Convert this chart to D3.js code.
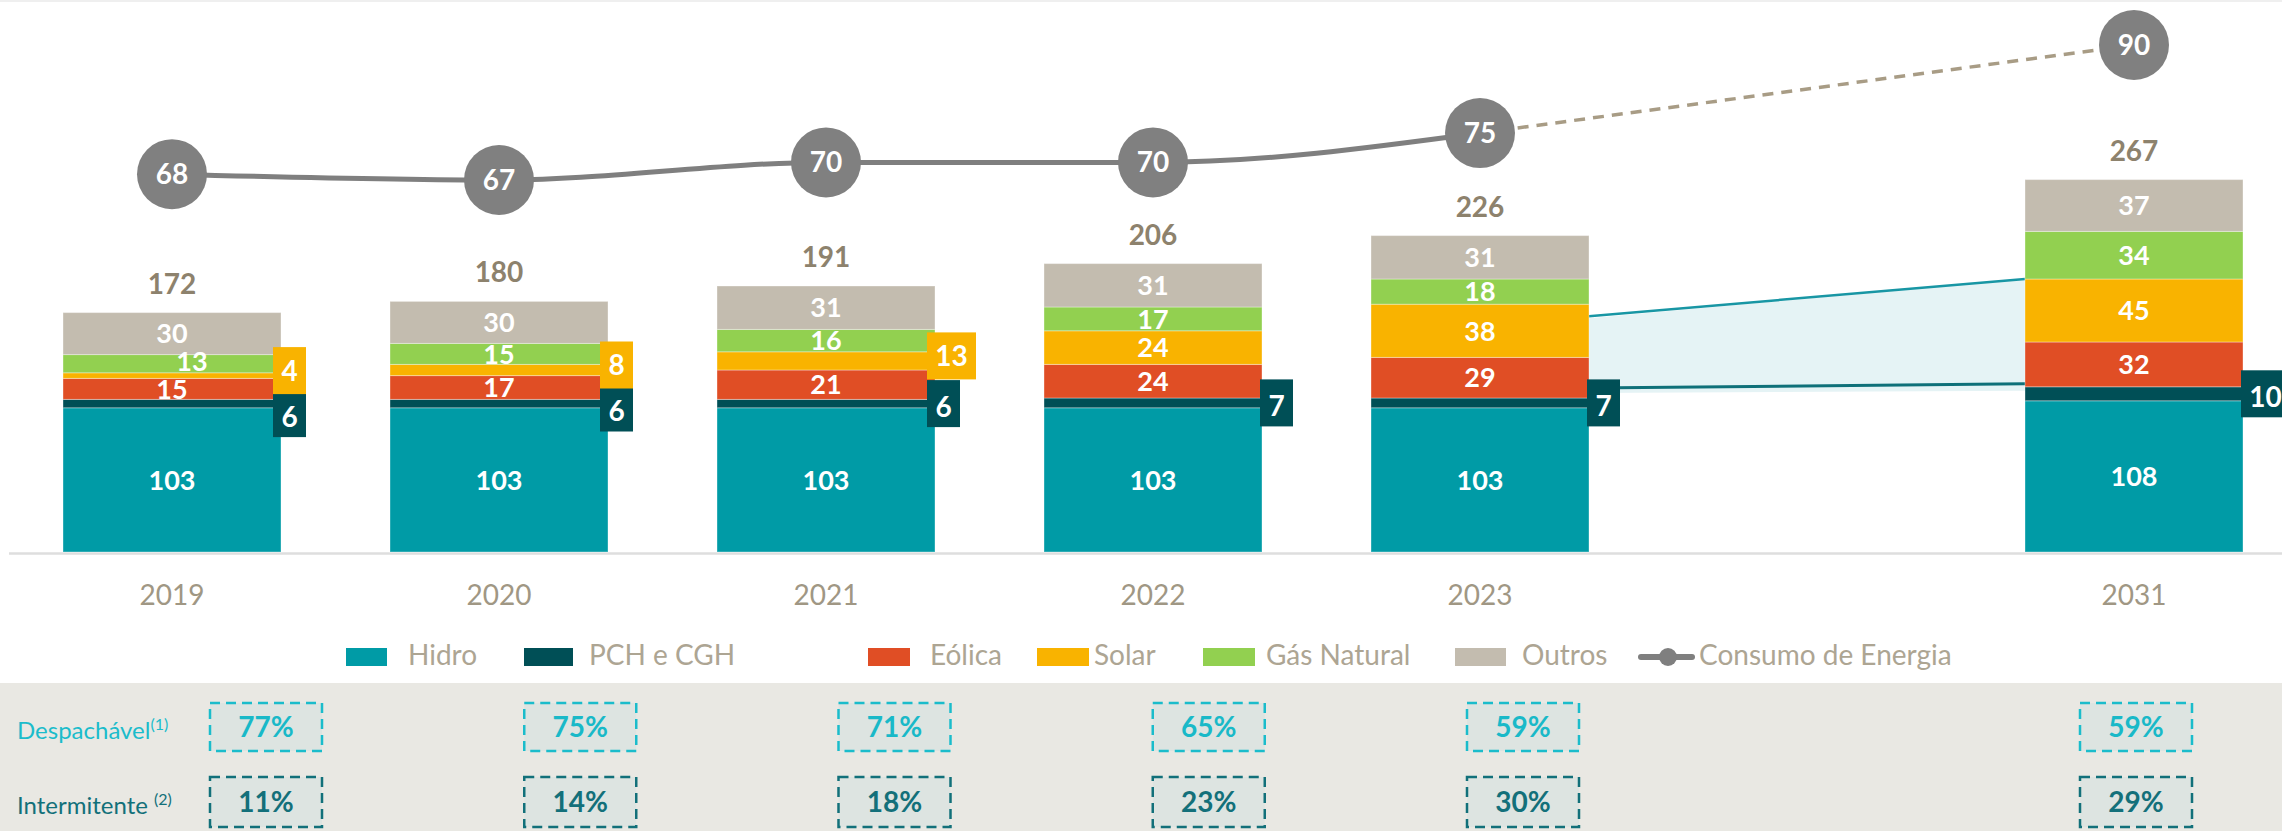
<!DOCTYPE html>
<html>
<head>
<meta charset="utf-8">
<script src="https://cdn.jsdelivr.net/npm/d3@7"></script>
<style>
  html, body { margin: 0; padding: 0; background: #ffffff; }
  svg { display: block; font-family: Lato, "Open Sans", "Liberation Sans", sans-serif; }
</style>
</head>
<body>
<svg id="chart" width="2282" height="831"></svg>
<script>
// ---------------- DATA ----------------
const years = ["2019", "2020", "2021", "2022", "2023", "2031"];
const slots = ["2019", "2020", "2021", "2022", "2023", "gap", "2031"];
const seriesNames = ["Hidro", "PCH e CGH", "Eólica", "Solar", "Gás Natural", "Outros"];
const hidro  = [103, 103, 103, 103, 103, 108];
const pch    = [6, 6, 6, 7, 7, 10];
const eolica = [15, 17, 21, 24, 29, 32];
const solar  = [4, 8, 13, 24, 38, 45];
const gas    = [13, 15, 16, 17, 18, 34];
const outros = [30, 30, 31, 31, 31, 37];
const totals = [172, 180, 191, 206, 226, 267];
const consumo = [68, 67, 70, 70, 75, 90];
const consumoLabel = "Consumo de Energia";
const despachavel  = [77, 75, 71, 65, 59, 59];
const intermitente = [11, 14, 18, 23, 30, 29];
const rowLabels = ["Despachável", "Intermitente "];
const rowSup = ["(1)", "(2)"];

// ---------------- STYLE ----------------
const colors = ["#009ba6", "#004f56", "#e04e25", "#f9b300", "#92d050", "#c3bcaf"];
const W = 2282, H = 831;
const baseY = 552;
const svg = d3.select("#chart");

const x = d3.scaleBand().domain(slots).range([8.5, 8.5 + 327 * 7]).paddingInner(1 / 3).paddingOuter(1 / 6);
const bw = x.bandwidth();
const cx = d => x(d) + bw / 2;
const y = d3.scaleLinear().domain([0, 300]).range([baseY, baseY - 420]);
const y2 = d3.scaleLinear().domain([67, 90]).range([180, 45]);
const tx = d3.scaleLinear().domain([0, 4, 6]).range([266, 1523, 2136]);

// top faint line
svg.append("line").attr("x1", 0).attr("x2", W).attr("y1", 1).attr("y2", 1)
  .attr("stroke", "#efefef").attr("stroke-width", 2);

// stack
const rows = years.map((yr, i) => ({
  year: yr, "Hidro": hidro[i], "PCH e CGH": pch[i], "Eólica": eolica[i],
  "Solar": solar[i], "Gás Natural": gas[i], "Outros": outros[i]
}));
const stack = d3.stack().keys(seriesNames)(rows);

// shaded transition area between 2023 and 2031 (Eólica + Solar band)
const i23 = years.indexOf("2023"), i31 = years.indexOf("2031");
const xl = x("2023") + bw, xr = x("2031");
const topL = y(stack[3][i23][1]), topR = y(stack[3][i31][1]);
const botL = y(stack[1][i23][1]), botR = y(stack[1][i31][1]);
svg.append("path")
  .attr("d", d3.line()([[xl, topL + 14], [xr, topR], [xr, botR + 4], [xl, botL - 5]]) + "Z")
  .attr("fill", "#e5f3f5");
svg.append("line").attr("x1", xl).attr("y1", topL + 12).attr("x2", xr).attr("y2", topR)
  .attr("stroke", "#1896a4").attr("stroke-width", 2.5);
svg.append("line").attr("x1", xl).attr("y1", botL - 10).attr("x2", xr).attr("y2", botR - 3)
  .attr("stroke", "#0f7079").attr("stroke-width", 3);

// axis line
svg.append("line").attr("x1", 9).attr("x2", W).attr("y1", baseY + 1.5).attr("y2", baseY + 1.5)
  .attr("stroke", "#dedede").attr("stroke-width", 2.5);

// bars
const g = svg.append("g");
stack.forEach((s, k) => {
  g.selectAll(null).data(s).enter().append("rect")
    .attr("x", d => x(d.data.year))
    .attr("width", bw)
    .attr("y", d => y(d[1]))
    .attr("height", d => y(d[0]) - y(d[1]))
    .attr("fill", colors[k])
    .attr("stroke", "rgba(255,255,255,0.35)")
    .attr("stroke-width", 1);
});

// inside labels
const fontB = "700";
stack.forEach((s, k) => {
  s.forEach((d, i) => {
    const v = d[1] - d[0];
    const name = seriesNames[k];
    if (name === "PCH e CGH") return;
    if (name === "Solar" && v < 20) return;
    const hpx = y(d[0]) - y(d[1]);
    g.append("text")
      .attr("x", cx(d.data.year) + (hpx < 20 ? 20 : 0))
      .attr("y", (y(d[0]) + y(d[1])) / 2 + (hpx < 20 ? -2 : 0))
      .attr("dy", "0.36em")
      .attr("text-anchor", "middle")
      .attr("fill", "#ffffff")
      .attr("font-size", 27).attr("font-weight", fontB)
      .text(v);
  });
});

// external boxes for small segments (Solar & PCH)
const boxH = 47;
years.forEach((yr, i) => {
  const right = x(yr) + bw;
  const left = right - 8;
  let solarBottom = -Infinity;
  const pcBox = g.append("g");
  if (solar[i] < 20) {
    const sc = (y(stack[3][i][0]) + y(stack[3][i][1])) / 2 - 5;
    const txt = String(solar[i]);
    const w = txt.length > 1 ? 49 : 33;
    const sb = g.append("g");
    sb.append("rect").attr("x", left).attr("y", sc - boxH / 2).attr("width", w).attr("height", boxH)
      .attr("fill", colors[3]);
    sb.append("text").attr("x", left + w / 2).attr("y", sc).attr("dy", "0.36em")
      .attr("text-anchor", "middle").attr("fill", "#fff").attr("font-size", 28).attr("font-weight", fontB)
      .text(txt);
    solarBottom = sc + boxH / 2;
  }
  const pc = (y(stack[1][i][0]) + y(stack[1][i][1])) / 2;
  let top = pc - boxH / 2;
  if (solarBottom > -Infinity) top = Math.max(top, solarBottom - 4);
  const txt = String(pch[i]);
  const w = txt.length > 1 ? 49 : 33;
  const pl = solarBottom > -Infinity ? left : left + 6;
  pcBox.append("rect")
    .attr("x", pl).attr("y", top).attr("width", w).attr("height", boxH).attr("fill", colors[1]);
  pcBox.append("text").attr("x", pl + w / 2).attr("y", top + boxH / 2 + 3).attr("dy", "0.36em")
    .attr("text-anchor", "middle").attr("fill", "#fff").attr("font-size", 28).attr("font-weight", fontB)
    .text(txt);
});

// totals
g.selectAll(null).data(years).enter().append("text")
  .attr("x", d => cx(d))
  .attr("y", (d, i) => y(d3.sum(seriesNames, n => rows[i][n])) - 19)
  .attr("text-anchor", "middle")
  .attr("fill", "#8d826d").attr("font-size", 28).attr("font-weight", fontB)
  .text((d, i) => totals[i]);

// year labels
g.selectAll(null).data(years).enter().append("text")
  .attr("x", d => cx(d)).attr("y", 605)
  .attr("text-anchor", "middle").attr("fill", "#a09784").attr("font-size", 28)
  .text(d => d);

// consumption line
const pts = years.map((yr, i) => [cx(yr), y2(consumo[i])]);
const hist = pts.slice(0, 5);
svg.append("path").attr("d", d3.line().curve(d3.curveMonotoneX)(hist))
  .attr("fill", "none").attr("stroke", "#7f7f7f").attr("stroke-width", 5);
svg.append("path").attr("d", d3.line()([pts[4], pts[5]]))
  .attr("fill", "none").attr("stroke", "#a89c85").attr("stroke-width", 3.5)
  .attr("stroke-dasharray", "11,8");
pts.forEach((p, i) => {
  svg.append("circle").attr("cx", p[0]).attr("cy", p[1]).attr("r", 35).attr("fill", "#808080");
  svg.append("text").attr("x", p[0]).attr("y", p[1]).attr("dy", "0.36em")
    .attr("text-anchor", "middle").attr("fill", "#fff").attr("font-size", 28).attr("font-weight", fontB)
    .text(consumo[i]);
});

// legend
const legendX = [
  [346, 41, 408], [524, 49, 589], [868, 42, 930], [1037, 52, 1094], [1203, 52, 1266], [1455, 51, 1522]
];
const lg = svg.append("g");
seriesNames.forEach((n, k) => {
  const [sx, sw, tx0] = legendX[k];
  lg.append("rect").attr("x", sx).attr("y", 648).attr("width", sw).attr("height", 18).attr("fill", colors[k]);
  lg.append("text").attr("x", tx0).attr("y", 665).attr("fill", "#ada593").attr("font-size", 28)
    .text(n);
});
lg.append("line").attr("x1", 1641).attr("x2", 1692).attr("y1", 657).attr("y2", 657)
  .attr("stroke", "#7f7f7f").attr("stroke-width", 6).attr("stroke-linecap", "round");
lg.append("circle").attr("cx", 1668).attr("cy", 657).attr("r", 9).attr("fill", "#7f7f7f");
lg.append("text").attr("x", 1699).attr("y", 665).attr("fill", "#ada593").attr("font-size", 28)
  .text(consumoLabel);

// table band
const tb = svg.append("g");
tb.append("rect").attr("x", 0).attr("y", 683).attr("width", W).attr("height", H - 683).attr("fill", "#e9e8e3");
const rowDefs = [
  { vals: despachavel, top: 703, h: 48, color: "#1bbccb", text: "#19b9c8" },
  { vals: intermitente, top: 777, h: 50, color: "#12707a", text: "#13707a" }
];
rowDefs.forEach((r, ri) => {
  const lbl = tb.append("text").attr("x", 17).attr("y", r.top + r.h / 2 + 12)
    .attr("fill", r.color).attr("font-size", 24);
  lbl.append("tspan").text(rowLabels[ri]);
  lbl.append("tspan").attr("font-size", 16).attr("dy", -9).text(rowSup[ri]);
  years.forEach((yr, i) => {
    const c = tx(slots.indexOf(yr));
    tb.append("rect").attr("x", c - 56).attr("y", r.top).attr("width", 112).attr("height", r.h)
      .attr("fill", "#dde4e1").attr("stroke", r.color).attr("stroke-width", 2.5)
      .attr("stroke-dasharray", "10,6");
    tb.append("text").attr("x", c).attr("y", r.top + r.h / 2).attr("dy", "0.36em")
      .attr("text-anchor", "middle").attr("fill", r.text).attr("font-size", 28).attr("font-weight", fontB)
      .text(r.vals[i] + "%");
  });
});
</script>
</body>
</html>
